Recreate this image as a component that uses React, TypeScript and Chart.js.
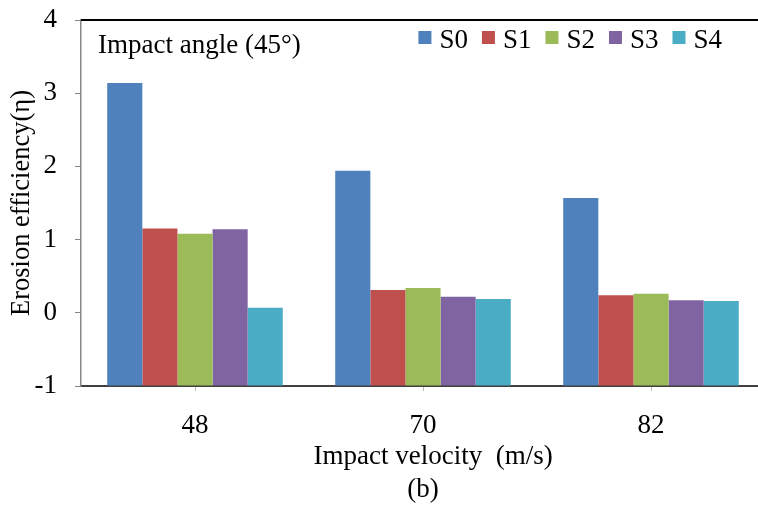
import React, { useEffect, useRef } from "react";
import { Chart, registerables } from "chart.js";

Chart.register(...registerables);

const categories = ["48", "70", "82"];
const seriesNames = ["S0", "S1", "S2", "S3", "S4"];
const s0 = [3.14, 1.94, 1.57];
const s1 = [1.15, 0.31, 0.24];
const s2 = [1.08, 0.34, 0.26];
const s3 = [1.14, 0.22, 0.17];
const s4 = [0.07, 0.19, 0.16];
const seriesValues = [s0, s1, s2, s3, s4];
const colors = ["#4F81BD", "#C0504D", "#9BBB59", "#8064A2", "#4BACC6"];
const yTicks = [-1, 0, 1, 2, 3, 4];
const FONT = "'Liberation Serif', 'Times New Roman', serif";

const overlayPlugin = {
  id: "overlay",
  afterDraw(chart: any) {
    const { ctx, chartArea } = chart;
    ctx.save();
    // top border
    ctx.strokeStyle = "#000";
    ctx.lineWidth = 2;
    ctx.beginPath();
    ctx.moveTo(chartArea.left, chartArea.top);
    ctx.lineTo(chartArea.right, chartArea.top);
    ctx.stroke();
    // annotation
    ctx.font = `27px ${FONT}`;
    ctx.fillStyle = "#000";
    ctx.textBaseline = "alphabetic";
    ctx.textAlign = "left";
    ctx.fillText("Impact angle (45°)", chartArea.left + 17, 53);
    // legend
    const ds = chart.data.datasets;
    const box = 13;
    const gap = 8;
    const itemGap = 14;
    const widths = ds.map((d: any) => ctx.measureText(d.label).width);
    let total = 0;
    widths.forEach((w: number, i: number) => {
      total += box + gap + w + (i < widths.length - 1 ? itemGap : 0);
    });
    let x = chartArea.right - 43 - total;
    ds.forEach((d: any, i: number) => {
      ctx.fillStyle = d.backgroundColor;
      ctx.fillRect(x, 31, box, box);
      x += box + gap;
      ctx.fillStyle = "#000";
      ctx.fillText(d.label, x, 48);
      x += widths[i] + itemGap;
    });
    ctx.restore();
  },
};

export default function App() {
  const ref = useRef<HTMLCanvasElement>(null);
  useEffect(() => {
    if (!ref.current) return;
    const chart = new Chart(ref.current, {
      type: "bar",
      data: {
        labels: categories,
        datasets: seriesNames.map((name, i) => ({
          label: name,
          data: seriesValues[i],
          backgroundColor: colors[i],
          borderWidth: 0,
          base: -1,
          categoryPercentage: 0.77,
          barPercentage: 1,
        })),
      },
      options: {
        animation: false,
        responsive: false,
        maintainAspectRatio: false,
        layout: { padding: { top: 20, right: 15, left: 0, bottom: 0 } },
        plugins: { legend: { display: false }, tooltip: { enabled: false } },
        scales: {
          x: {
            type: "category",
            grid: {
              offset: false,
              drawOnChartArea: false,
              drawTicks: true,
              tickLength: 5,
              color: "#bbbbbb",
            },
            border: { display: true, color: "#404040", width: 2 },
            ticks: {
              padding: 19,
              color: "#000",
              font: { family: FONT, size: 27, lineHeight: 1.2 },
            },
            title: {
              display: true,
              text: ["   Impact velocity  (m/s)", "(b)"],
              color: "#000",
              font: { family: FONT, size: 27, lineHeight: 1.22 },
              padding: { top: 0, bottom: 0 },
            },
            afterFit(scale: any) {
              scale.height = 120;
              scale.paddingLeft = 0;
              scale.paddingRight = 0;
            },
          },
          y: {
            min: -1,
            max: 4,
            afterBuildTicks(scale: any) {
              scale.ticks = yTicks.map((v) => ({ value: v }));
            },
            grid: {
              drawOnChartArea: false,
              drawTicks: true,
              tickLength: 6,
              color: "#868686",
            },
            border: { display: true, color: "#868686", width: 1.5 },
            ticks: {
              padding: 18,
              color: "#000",
              font: { family: FONT, size: 27, lineHeight: 1.2 },
            },
            title: {
              display: true,
              text: "Erosion efficiency(η)",
              color: "#000",
              font: { family: FONT, size: 26.5, lineHeight: 1.2 },
              padding: { top: 6, bottom: 0 },
            },
            afterFit(scale: any) {
              scale.width = 81;
              scale.paddingTop = 0;
              scale.paddingBottom = 0;
            },
          },
        },
      },
      plugins: [overlayPlugin],
    } as any);
    return () => chart.destroy();
  }, []);
  return (
    <div
      style={{
        position: "fixed",
        left: 0,
        top: 0,
        width: 758,
        height: 506,
        overflow: "hidden",
        background: "#fff",
      }}
    >
      <canvas ref={ref} width={780} height={506} style={{ width: 780, height: 506, display: "block" }} />
    </div>
  );
}
